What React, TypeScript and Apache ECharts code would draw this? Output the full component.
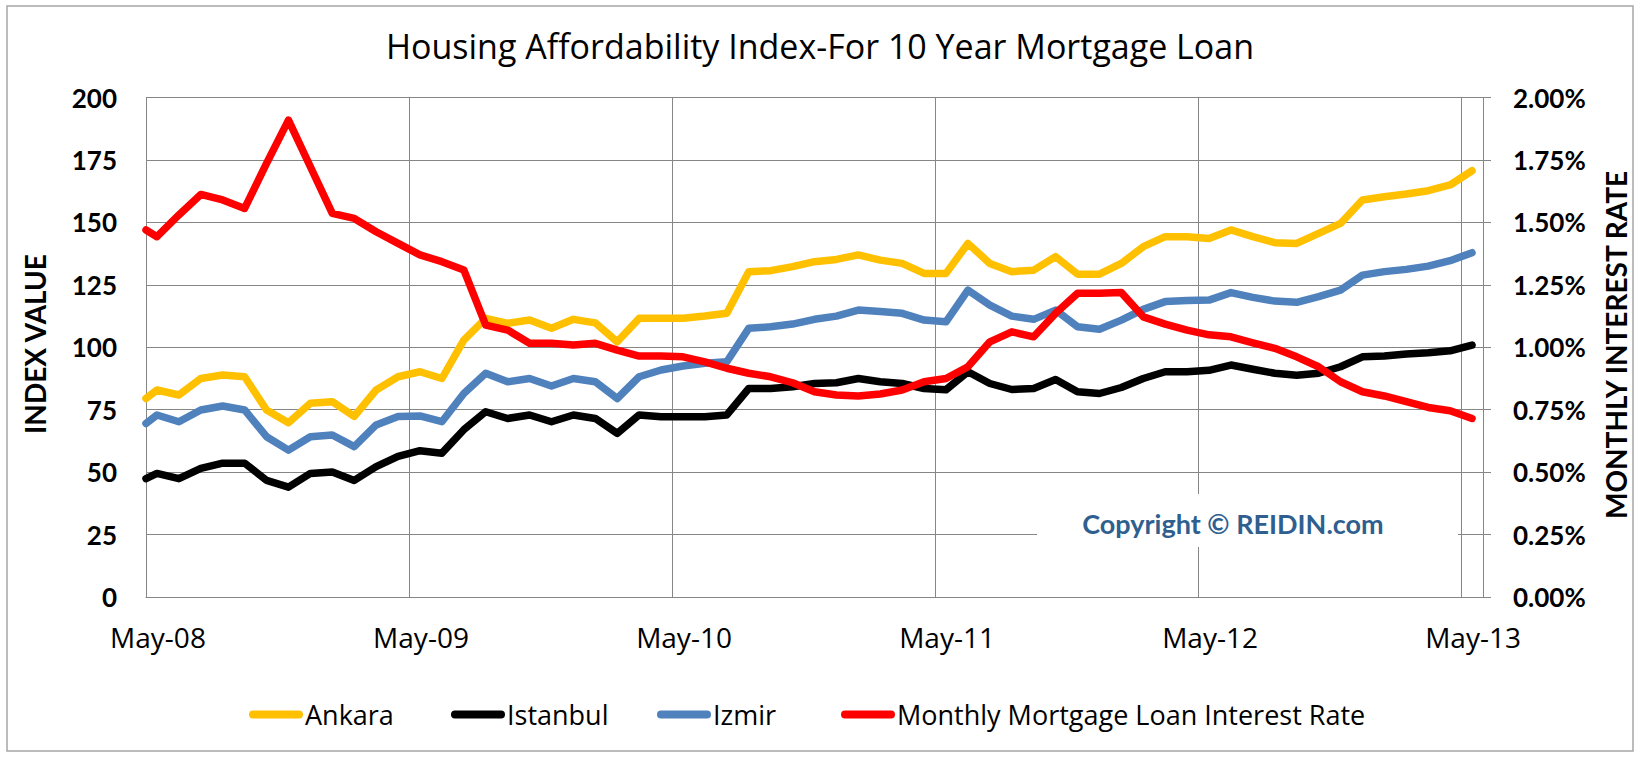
import React, { useEffect, useRef } from "react";
import * as echarts from "echarts";

// Index values, first point at May-08, then mid-month points
const ankara = [79.5, 82.9, 80.9, 87.5, 88.9, 88.2, 74.9, 69.8, 77.6, 78.2, 72.3, 82.9, 88.2, 90.2, 87.5, 102.9, 111.6, 109.6, 110.9, 107.6, 111.2, 109.8, 102.2, 111.6, 111.6, 111.6, 112.5, 113.6, 130.3, 130.7, 132.3, 134.3, 135.2, 137.0, 134.9, 133.6, 129.6, 129.6, 141.6, 133.6, 130.3, 130.9, 136.3, 129.3, 129.3, 133.6, 140.3, 144.3, 144.3, 143.6, 147.0, 144.3, 141.9, 141.6, 145.6, 149.6, 159.0, 160.3, 161.4, 162.7, 165.0, 170.7];
const istanbul = [47.4, 49.5, 47.4, 51.5, 53.6, 53.6, 46.7, 44.0, 49.5, 50.1, 46.7, 52.2, 56.3, 58.6, 57.6, 67.0, 74.2, 71.5, 72.9, 70.2, 72.9, 71.5, 65.5, 72.9, 72.2, 72.2, 72.2, 72.9, 83.5, 83.5, 84.2, 85.5, 85.8, 87.5, 86.2, 85.5, 83.5, 83.0, 90.2, 85.5, 83.1, 83.5, 87.1, 82.2, 81.5, 83.9, 87.5, 90.2, 90.2, 90.8, 92.9, 91.2, 89.6, 88.8, 89.6, 92.2, 96.2, 96.5, 97.3, 97.8, 98.6, 100.9];
const izmir = [69.5, 72.9, 70.2, 74.9, 76.5, 74.9, 64.2, 58.8, 64.2, 64.9, 60.2, 68.9, 72.3, 72.5, 70.2, 81.5, 89.6, 86.2, 87.5, 84.5, 87.5, 86.2, 79.5, 88.2, 90.9, 92.5, 93.6, 94.2, 107.6, 108.2, 109.3, 111.2, 112.5, 114.9, 114.3, 113.6, 110.9, 110.2, 122.9, 116.9, 112.5, 111.2, 114.9, 108.2, 107.2, 110.9, 115.2, 118.3, 118.7, 118.9, 121.9, 120.0, 118.5, 118.0, 120.3, 122.9, 128.9, 130.3, 131.2, 132.5, 134.7, 137.9];
// Monthly mortgage loan interest rate, in percent
const rate = [1.47, 1.443, 1.53, 1.612, 1.59, 1.556, 1.737, 1.91, 1.723, 1.536, 1.516, 1.463, 1.416, 1.37, 1.343, 1.31, 1.089, 1.069, 1.016, 1.016, 1.009, 1.016, 0.989, 0.965, 0.965, 0.962, 0.942, 0.916, 0.896, 0.882, 0.858, 0.822, 0.809, 0.805, 0.813, 0.829, 0.862, 0.875, 0.922, 1.022, 1.062, 1.042, 1.136, 1.216, 1.216, 1.219, 1.122, 1.093, 1.069, 1.05, 1.042, 1.018, 0.996, 0.962, 0.922, 0.862, 0.822, 0.805, 0.782, 0.759, 0.746, 0.715];

// x position of each observation, in months after May-08
const monthOffsets = ankara.map((_, i) => (i === 0 ? 0 : i - 0.5));
const xTickLabels = ["May-08", "May-09", "May-10", "May-11", "May-12", "May-13"];

const seriesNames = ["Ankara", "Istanbul", "Izmir", "Monthly Mortgage Loan Interest Rate"];
const seriesColors = ["#FFC000", "#000000", "#4F81BD", "#FF0000"];

const BOLD_FONT = "Lato";
const REG_FONT = "Open Sans";
const GRID_COLOR = "#868686";

export default function App() {
  const ref = useRef<HTMLDivElement>(null);

  useEffect(() => {
    if (!ref.current) return;
    const chart = echarts.init(ref.current, undefined, { renderer: "svg" });
    const values = [ankara, istanbul, izmir, rate];

    const legendLefts = [244, 446, 652, 836];
    const legendIcon = "path://M4,0 L50,0 A4,4 0 0 1 50,8 L4,8 A4,4 0 0 1 4,0 Z";

    const option: any = {
      animation: false,
      backgroundColor: "#ffffff",
      title: {
        text: "Housing Affordability Index-For 10 Year Mortgage Loan",
        left: "center",
        top: 24,
        textStyle: { fontSize: 34, fontWeight: "normal", fontFamily: REG_FONT, color: "#000" },
      },
      legend: seriesNames.map((name, i) => ({
        data: [name],
        left: legendLefts[i],
        top: 696,
        icon: legendIcon,
        itemWidth: 54,
        itemHeight: 8,
        textStyle: { fontSize: 27, fontFamily: REG_FONT, color: "#000", padding: [0, 0, 0, -3] },
      })),
      grid: { left: 146, right: 157, top: 97.6, bottom: 161, containLabel: false },
      xAxis: {
        type: "value",
        min: 0,
        max: 61,
        interval: 12,
        axisLine: { show: true, lineStyle: { color: GRID_COLOR, width: 1 } },
        axisTick: { show: false },
        splitLine: { show: true, lineStyle: { color: GRID_COLOR, width: 1 } },
        axisLabel: {
          fontSize: 28,
          fontFamily: REG_FONT,
          color: "#000",
          margin: 26,
          padding: [0, 0, 0, 24],
          showMaxLabel: false,
          formatter: (v: number) => (v % 12 === 0 ? xTickLabels[v / 12] : ""),
        },
      },
      yAxis: [
        {
          type: "value",
          min: 0,
          max: 200,
          interval: 25,
          axisLine: { show: true, lineStyle: { color: GRID_COLOR, width: 1 } },
          axisTick: { show: false },
          splitLine: { show: true, lineStyle: { color: GRID_COLOR, width: 1 } },
          axisLabel: { fontSize: 26, fontWeight: "bold", fontFamily: BOLD_FONT, color: "#000", margin: 29 },
        },
        {
          type: "value",
          position: "right",
          min: 0,
          max: 2,
          interval: 0.25,
          axisLine: { show: true, lineStyle: { color: GRID_COLOR, width: 1 } },
          axisTick: { show: true, length: 8, lineStyle: { color: GRID_COLOR } },
          splitLine: { show: false },
          axisLabel: {
            fontSize: 26,
            fontWeight: "bold",
            fontFamily: BOLD_FONT,
            color: "#000",
            margin: 30,
            formatter: (v: number) => v.toFixed(2) + "%",
          },
        },
      ],
      graphic: [
        {
          type: "rect",
          shape: { x: 7, y: 6, width: 1626, height: 745 },
          style: { fill: "none", stroke: "#a6a6a6", lineWidth: 1.5 },
          silent: true,
        },
        {
          type: "rect",
          shape: { x: 1037, y: 494, width: 421, height: 53 },
          style: { fill: "#ffffff" },
          z: 10,
          silent: true,
        },
        {
          type: "text",
          x: 1233,
          y: 523,
          z: 11,
          style: {
            text: "Copyright © REIDIN.com",
            fontSize: 27,
            fontWeight: "bold",
            fontFamily: BOLD_FONT,
            fill: "#2F5F8F",
            align: "center",
            verticalAlign: "middle",
            textAlign: "center",
            textVerticalAlign: "middle",
          },
        },
        {
          type: "text",
          x: 35,
          y: 344,
          rotation: Math.PI / 2,
          style: {
            text: "INDEX VALUE",
            fontSize: 28,
            fontWeight: "bold",
            fontFamily: BOLD_FONT,
            fill: "#000",
            align: "center",
            verticalAlign: "middle",
            textAlign: "center",
            textVerticalAlign: "middle",
          },
        },
        {
          type: "text",
          x: 1616,
          y: 345,
          rotation: Math.PI / 2,
          style: {
            text: "MONTHLY INTEREST RATE",
            fontSize: 28,
            fontWeight: "bold",
            fontFamily: BOLD_FONT,
            fill: "#000",
            align: "center",
            verticalAlign: "middle",
            textAlign: "center",
            textVerticalAlign: "middle",
          },
        },
      ],
      series: seriesNames.map((name, i) => ({
        name,
        type: "line",
        yAxisIndex: i === 3 ? 1 : 0,
        data: values[i].map((v, j) => [monthOffsets[j], v]),
        showSymbol: false,
        symbol: "none",
        z: 2 + i,
        lineStyle: { color: seriesColors[i], width: 7.5, cap: "round", join: "round" },
        itemStyle: { color: seriesColors[i] },
      })),
    };

    chart.setOption(option);
    return () => chart.dispose();
  }, []);

  return (
    <div
      ref={ref}
      style={{ position: "fixed", left: 0, top: 0, width: 1640, height: 758, background: "#fff" }}
    />
  );
}
